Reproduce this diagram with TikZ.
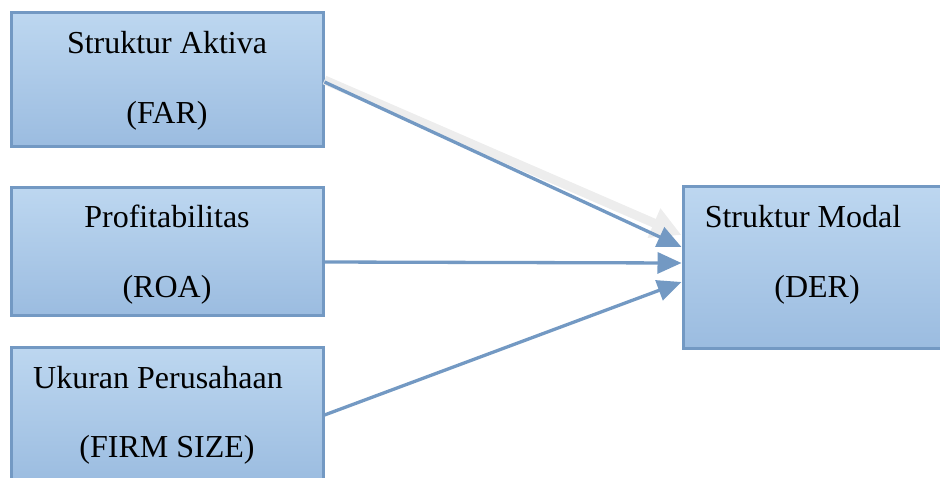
\documentclass[tikz,border=0pt]{standalone}
\usepackage{fontspec}
\setmainfont{Liberation Serif}
\usetikzlibrary{arrows.meta}
\definecolor{edge}{HTML}{7399C3}
\definecolor{topc}{HTML}{BDD7F0}
\definecolor{botc}{HTML}{9BBCE0}
\definecolor{shad}{HTML}{EDEDED}
\tikzset{
  box/.style={draw=edge, line width=3pt, top color=topc, bottom color=botc, rectangle, inner sep=0pt},
  lbl/.style={anchor=base, font=\fontsize{32}{36}\selectfont, inner sep=0pt},
  conn/.style={draw=edge, line width=3.3pt, -{Triangle[length=24pt,width=21pt]}},
  ghost/.style={draw=shad, line width=9pt, -{Triangle[length=30pt,width=30pt]}}
}
\begin{document}
\begin{tikzpicture}[x=1pt,y=-1pt]
\useasboundingbox (0,0) rectangle (940,477);
\clip (0,0) rectangle (940,477);
\node[box, minimum width=312pt, minimum height=134pt] (b1) at (167,79) {};
\node[box, minimum width=312pt, minimum height=128pt] (b2) at (167,251) {};
\node[box, minimum width=312pt, minimum height=136pt] (b3) at (167,415) {};
\node[box, minimum width=268pt, minimum height=162pt] (r) at (817,267) {};
\node[lbl] (t1a) at (167,53) {Struktur Aktiva};
\node[lbl] (t1b) at (167,123) {(FAR)};
\node[lbl] (t2a) at (167,227) {Profitabilitas};
\node[lbl] (t2b) at (167,297) {(ROA)};
\node[lbl] (t3a) at (158,388) {Ukuran Perusahaan};
\node[lbl] (t3b) at (167,457) {(FIRM SIZE)};
\node[lbl] (tra) at (803,227) {Struktur Modal};
\node[lbl] (trb) at (817,297) {(DER)};
\draw[ghost] ([yshift=-1pt]b1.east) -- ([yshift=32pt]r.west);
\draw[conn] ([yshift=-3pt]b1.east) -- ([yshift=20pt]r.west);
\draw[conn] ([yshift=-11pt]b2.east) -- ([yshift=4pt]r.west);
\draw[conn] (b3.east) -- ([yshift=-15pt]r.west);
\end{tikzpicture}
\end{document}
